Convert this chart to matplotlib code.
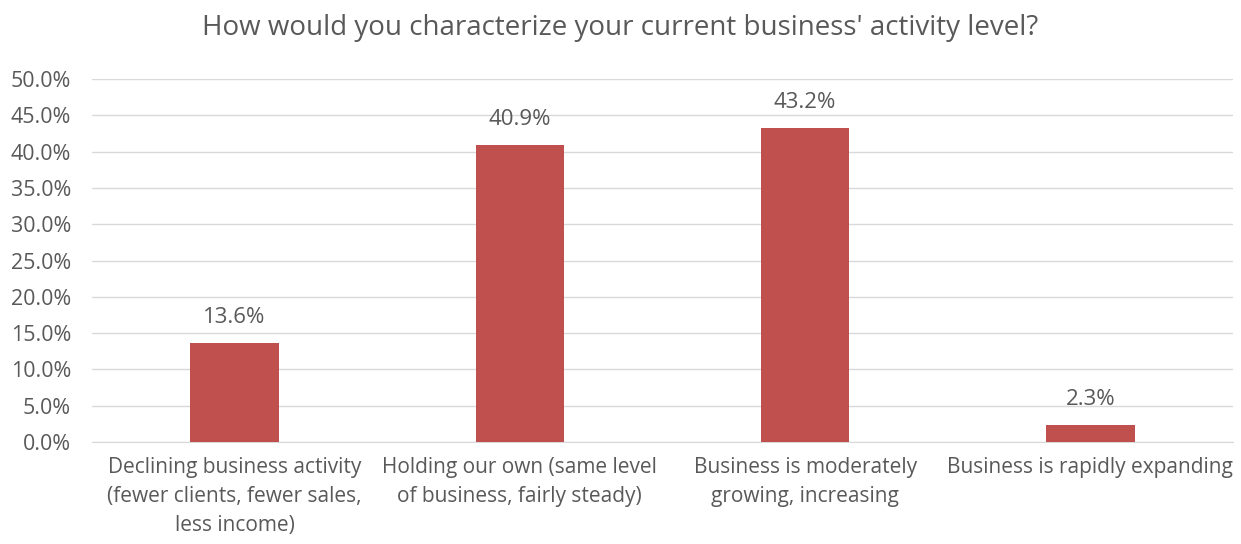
import matplotlib
matplotlib.use("Agg")
import matplotlib.pyplot as plt
from matplotlib.ticker import FuncFormatter

plt.rcParams['font.family'] = ['Open Sans', 'DejaVu Sans']

categories = [
    "Declining business activity\n(fewer clients, fewer sales,\nless income)",
    "Holding our own (same level\nof business, fairly steady)",
    "Business is moderately\ngrowing, increasing",
    "Business is rapidly expanding",
]
shares = [13.6, 40.9, 43.2, 2.3]
yticks = [0, 5, 10, 15, 20, 25, 30, 35, 40, 45, 50]

text_color = "#595959"
bar_color = "#C0504D"

fig = plt.figure(figsize=(12.41, 5.44), dpi=100)
ax = fig.add_axes([0.0741, 0.1875, 0.9194, 0.667])

x = range(len(categories))
bars = ax.bar(x, shares, width=0.31, color=bar_color, zorder=3)
for b, v in zip(bars, shares):
    ax.text(b.get_x() + b.get_width() / 2, v + 2.1, f"{v:.1f}%",
            ha="center", va="bottom", fontsize=16, color=text_color)

ax.set_xlim(-0.5, len(categories) - 0.5)
ax.set_ylim(0, 50)
ax.set_yticks(yticks)
ax.yaxis.set_major_formatter(FuncFormatter(lambda v, p: f"{v:.1f}%"))
ax.set_xticks(list(x))
ax.set_xticklabels(categories, fontsize=15, color=text_color, linespacing=1.5)
ax.tick_params(axis="y", labelsize=15.4, labelcolor=text_color, length=0, pad=15)
ax.tick_params(axis="x", length=0, pad=11)
ax.grid(axis="y", color="#D9D9D9", linewidth=1, zorder=0)
for s in ["top", "right", "left"]:
    ax.spines[s].set_visible(False)
ax.spines["bottom"].set_color("#D9D9D9")

fig.text(0.5, 0.9485, "How would you characterize your current business' activity level?",
         ha="center", va="center", fontsize=20, color=text_color)

fig.savefig("out.png", dpi=100)
